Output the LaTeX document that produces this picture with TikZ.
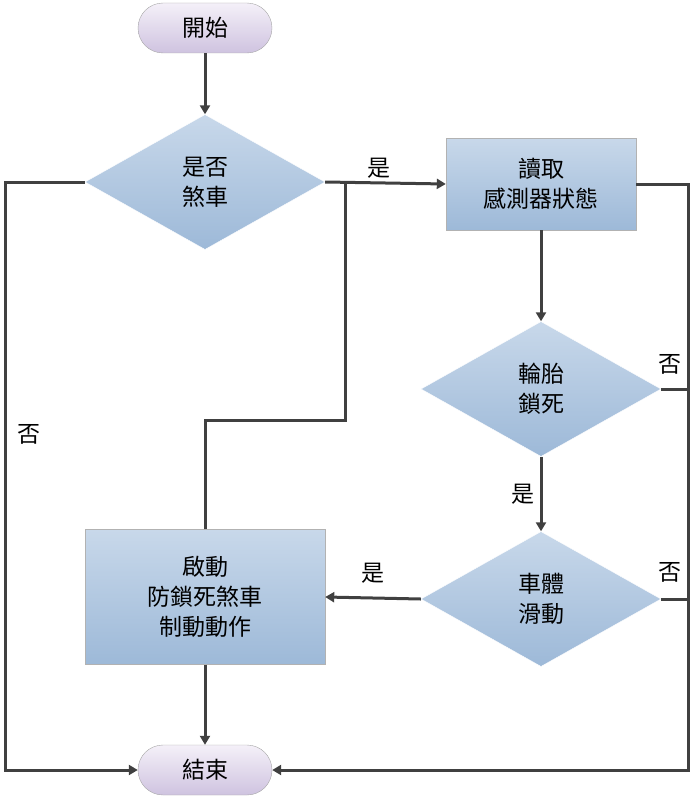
\documentclass[tikz,border=0pt]{standalone}
\usepackage{fontspec}
\newfontfamily\cjk{Noto Sans CJK TC}
\usetikzlibrary{positioning,shapes.geometric,arrows.meta}
\definecolor{linegray}{HTML}{404040}
\definecolor{boxtop}{HTML}{C8D8EA}
\definecolor{boxbot}{HTML}{9DB9D8}
\definecolor{termtop}{HTML}{F4F0F8}
\definecolor{termbot}{HTML}{CFC3E0}
\tikzstyle{arrow} = [line width=3pt, draw=linegray, -{Triangle[length=9pt,width=10pt]}]
\tikzstyle{line} = [line width=3pt, draw=linegray]

\begin{document}
\begin{tikzpicture}[x=1pt,y=-1pt,
			font=\cjk\fontsize{23}{30}\selectfont,
			term/.style={
					rectangle,
					rounded corners=25pt,
					draw=gray!70,
					top color=termtop,
					bottom color=termbot,
					minimum width=134pt,
					minimum height=50pt,
				},
			proc/.style={
					rectangle,
					draw=gray!60,
					top color=boxtop,
					bottom color=boxbot,
					align=center,
				},
			dec/.style={
					diamond,
					aspect=1.78,
					inner sep=0pt,
					draw=white,
					top color=boxtop,
					bottom color=boxbot,
					minimum width=240pt,
					minimum height=135pt,
					align=center,
				}
		]
		\useasboundingbox (0,0) rectangle (692,800);

		% Nodes
		\node[term] (start) at (205,28) {開始};
		\node[dec] (brake) at (205,182) {是否\\煞車};
		\node[proc, minimum width=190pt, minimum height=92pt] (read) at (541,184) {讀取\\感測器狀態};
		\node[dec] (lock) at (541,389) {輪胎\\鎖死};
		\node[dec] (slide) at (541,599) {車體\\滑動};
		\node[proc, minimum width=240pt, minimum height=135pt] (abs) at (205,597) {啟動\\防鎖死煞車\\制動動作};
		\node[term] (stop) at (205,770) {結束};

		\coordinate (lt) at (5,182);
		\coordinate (lb) at (5,770);
		\coordinate (rt) at (688,184);
		\coordinate (rb) at (688,770);
		\coordinate (r2) at (688,389);
		\coordinate (r3) at (688,599);
		\coordinate (m1) at (205,420);
		\coordinate (m2) at (345,420);
		\coordinate (m3) at (345,182);

		% Connections
		\draw[arrow] (start) -- (brake);
		\draw[arrow] (brake.east) -- node[above, pos=0.45]{是} (read.west);
		\draw[arrow] (brake.west) -- (lt) -- node[pos=0.43, right=8pt]{否} (lb) -- (stop.west);
		\draw[arrow] (read.east) -- (rt) -- (rb) -- (stop.east);
		\draw[arrow] (read) -- (lock);
		\draw[line] (lock.east) -- node[pos=1, above left=10pt and 2pt]{否} (r2);
		\draw[arrow] (lock) -- node[left=2pt]{是} (slide);
		\draw[line] (slide.east) -- node[pos=1, above left=12pt and 2pt]{否} (r3);
		\draw[arrow] (slide.west) -- node[above=10pt]{是} (abs.east);
		\draw[line] (abs.north) -- (m1) -- (m2) -- (m3);
		\draw[arrow] (abs) -- (stop);

	\end{tikzpicture}
\end{document}
